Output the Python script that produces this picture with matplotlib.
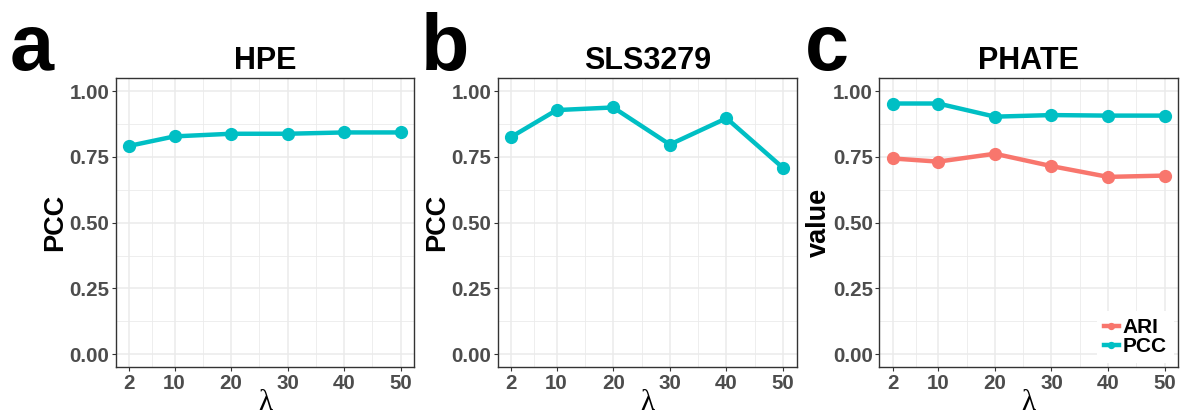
import matplotlib
matplotlib.use("Agg")
import matplotlib.pyplot as plt
import numpy as np

lambdas = [2, 10, 20, 30, 40, 50]
hpe_pcc = [0.792, 0.828, 0.838, 0.838, 0.843, 0.843]
sls_pcc = [0.826, 0.928, 0.938, 0.797, 0.897, 0.708]
phate_ari = [0.744, 0.732, 0.762, 0.715, 0.674, 0.679]
phate_pcc = [0.953, 0.953, 0.903, 0.909, 0.907, 0.907]
y_ticks = [0.00, 0.25, 0.50, 0.75, 1.00]
y_minor = [0.125, 0.375, 0.625, 0.875]
x_minor = [6, 15, 25, 35, 45]

TEAL = "#00BFC4"
SALMON = "#F8766D"
plt.rcParams['font.family'] = ['Liberation Sans', 'DejaVu Sans']

W, H = 1180, 416
fig = plt.figure(figsize=(W / 100, H / 100), dpi=100)

def px_axes(left, right, top=78, bottom=367.3):
    return fig.add_axes([left / W, (H - bottom) / H, (right - left) / W, (bottom - top) / H])

def style(ax, title, ylabel):
    ax.set_xlim(2 - 2.4, 50 + 2.4)
    ax.set_ylim(-0.05, 1.05)
    ax.set_xticks(lambdas)
    ax.set_xticks(x_minor, minor=True)
    ax.set_yticks(y_ticks)
    ax.set_yticks(y_minor, minor=True)
    ax.set_yticklabels([f"{v:.2f}" for v in y_ticks])
    ax.grid(True, which='major', color='#EBEBEB', linewidth=1.1, zorder=0)
    ax.grid(True, which='minor', color='#EBEBEB', linewidth=0.6, zorder=0)
    ax.set_axisbelow(True)
    ax.tick_params(which='major', length=3, width=0.8, color='#333333', pad=1.5,
                   labelsize=14.8, labelcolor='#4D4D4D')
    ax.tick_params(which='minor', length=0)
    for lab in ax.get_xticklabels() + ax.get_yticklabels():
        lab.set_fontweight('bold')
    for s in ax.spines.values():
        s.set_color('#333333')
        s.set_linewidth(1.0)
    ax.set_title(title, fontsize=22, fontweight='bold', pad=6.5)
    ax.set_ylabel(ylabel, fontsize=19.5, fontweight='bold', labelpad=1)
    ax.set_xlabel("λ", fontsize=21, family=['Liberation Serif', 'DejaVu Serif'], labelpad=-1.5)

axa = px_axes(115.7, 414.3)
axa.plot(lambdas, hpe_pcc, color=TEAL, linewidth=3.2, marker='o', markersize=8.5, zorder=3)
style(axa, "HPE", "PCC")

axb = px_axes(497.7, 796.7)
axb.plot(lambdas, sls_pcc, color=TEAL, linewidth=3.2, marker='o', markersize=8.5, zorder=3)
style(axb, "SLS3279", "PCC")

axc = px_axes(879.3, 1178.3)
axc.plot(lambdas, phate_ari, color=SALMON, linewidth=3.2, marker='o', markersize=8.5, zorder=3, label="ARI")
axc.plot(lambdas, phate_pcc, color=TEAL, linewidth=3.2, marker='o', markersize=8.5, zorder=3, label="PCC")
style(axc, "PHATE", "value")
leg = axc.legend(loc='lower right', frameon=True, fancybox=False, edgecolor='none', facecolor='white',
                 framealpha=1, handlelength=0.7, handletextpad=0.2, labelspacing=0.0,
                 borderpad=0.35, borderaxespad=0.2, markerscale=0.5,
                 prop={'weight': 'bold', 'size': 15})

for x, ch in [(10, "a"), (421, "b"), (805, "c")]:
    fig.text(x / W, (H - 70) / H, ch, fontsize=57, fontweight='bold', ha='left', va='baseline')

fig.savefig("out.png", dpi=100)
